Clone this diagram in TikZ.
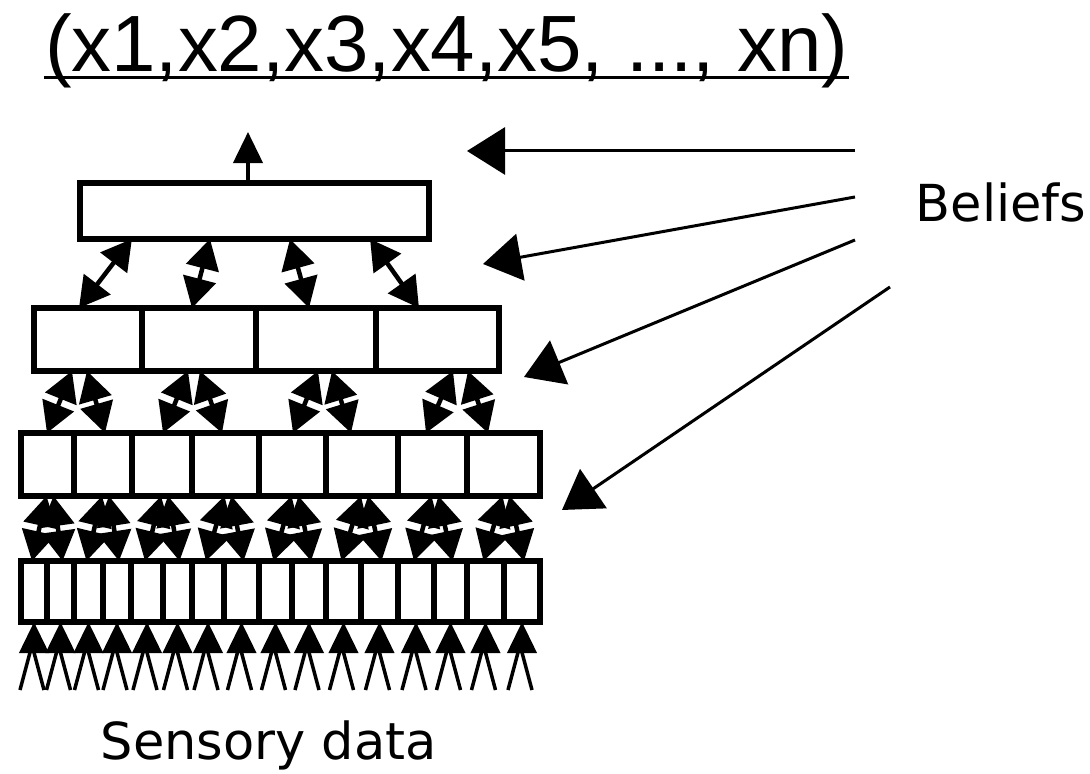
\documentclass[tikz,border=0pt]{standalone}
\usepackage{fontspec}
\newfontfamily\titlefont{Liberation Sans}
\newfontfamily\labelfont{DejaVu Sans}
\usetikzlibrary{arrows.meta}

\begin{document}
\begin{tikzpicture}[x=0.01cm,y=-0.01cm,
  cell/.style={draw,line width=0.055cm,inner sep=0pt,outer sep=0pt},
  link/.style={line width=0.045cm,{Triangle[length=0.3cm,width=0.33cm]}-{Triangle[length=0.3cm,width=0.33cm]}},
  feed/.style={line width=0.04cm,-{Triangle[length=0.31cm,width=0.29cm]}},
  belief/.style={line width=0.03cm,-{Triangle[length=0.38cm,width=0.47cm]}},
  label/.style={font=\labelfont\fontsize{14.5}{17}\selectfont,anchor=base west,inner sep=0pt}]
\useasboundingbox (0,0) rectangle (1090,774);
% Titulo
\node[font=\titlefont\fontsize{22.7}{26}\selectfont,inner sep=0pt,anchor=base] (title) at (446.5,72) {(x1,x2,x3,x4,x5, ..., xn)};
\draw[line width=0.03cm] ([yshift=-0.06cm]title.base west) -- ([yshift=-0.06cm]title.base east);
% Capa superior
\node[cell,minimum width=3.49cm,minimum height=0.56cm] (top) at (254.5,211) {};
\coordinate (out) at (248,132);
\draw[feed] (top.north -| out) -- (out);
% Capas
\foreach \xa/\xb [count=\i] in {34/142,142/256,256/376,376/499}
  \node[cell,minimum width={(\xb-\xa)*0.01cm},minimum height=0.63cm] (r2c\i) at ({(\xa+\xb)/2},339.5) {};
\foreach \xa/\xb [count=\i] in {21/74,74/132,132/192,192/259,259/326,326/398,398/467,467/540}
  \node[cell,minimum width={(\xb-\xa)*0.01cm},minimum height=0.63cm] (r3c\i) at ({(\xa+\xb)/2},464.5) {};
\foreach \xa/\xb [count=\i] in {21/47,47/74,74/103,103/131,131/163,163/192,192/224,224/259,
                                259/292,292/326,326/361,361/398,398/434,434/467,467/504,504/540}
  \node[cell,minimum width={(\xb-\xa)*0.01cm},minimum height=0.61cm] (r4c\i) at ({(\xa+\xb)/2},591.5) {};
% Flechas entre capas
\foreach \i/\dx/\tx in {1/-0.09/-1.225,2/-0.07/-0.445,3/-0.07/0.355,4/-0.185/1.155}
  \draw[link] ([xshift=\dx cm]r2c\i.north) -- ([xshift=\tx cm]top.south);
\foreach \k/\la/\lb/\ra/\rb in {1/-0.005/-0.16/0.02/-0.01,2/0.01/-0.11/-0.035/0.01,
                                3/0.005/0.02/-0.11/0.16,4/-0.065/0.155/-0.155/0.305}{
  \pgfmathtruncatemacro\ca{2*\k-1}
  \pgfmathtruncatemacro\cb{2*\k}
  \draw[link] ([xshift=\la cm]r3c\ca.north) -- ([xshift=\lb cm]r2c\k.south);
  \draw[link] ([xshift=\ra cm]r3c\cb.north) -- ([xshift=\rb cm]r2c\k.south);
}
\foreach \k in {1,...,8}{
  \pgfmathtruncatemacro\ca{2*\k-1}
  \pgfmathtruncatemacro\cb{2*\k}
  \draw[link] ([xshift=-0.02cm]r4c\ca.north) -- ([xshift=-0.01cm]r3c\k.south);
  \draw[link] ([xshift=0.02cm]r4c\cb.north) -- ([xshift=0.06cm]r3c\k.south);
}
% Entradas
\foreach \i in {1,...,16}{
  \coordinate (s\i) at ([yshift=-0.3cm]r4c\i.south);
  \draw[line width=0.035cm] ([xshift=-0.14cm,yshift=-0.68cm]r4c\i.south) -- ([xshift=-0.02cm,yshift=0.07cm]s\i)
    -- ([xshift=0.1cm,yshift=-0.68cm]r4c\i.south);
  \draw[feed] (s\i) -- (r4c\i.south);
}
\node[label] (sensory) at (100,760) {Sensory data};
% Creencias
\node[label] (beliefs) at (915,222) {Beliefs};
\foreach \i/\sx/\sy/\tx/\ty in {1/855/151/467/151,2/855/197/483/264,3/855/240/524/377,4/890/287/562/510}{
  \coordinate (b\i) at (\sx,\sy);
  \coordinate (t\i) at (\tx,\ty);
  \draw[belief] (b\i) -- (t\i);
}
\end{tikzpicture}
\end{document}
